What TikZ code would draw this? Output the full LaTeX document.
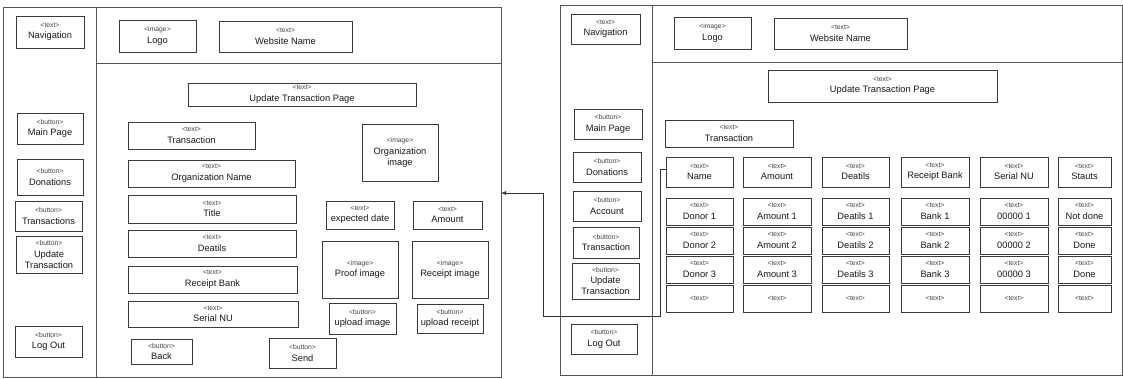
\documentclass[tikz,border=0pt]{standalone}
\usepackage{fontspec}
\setmainfont{Liberation Sans}
\usetikzlibrary{arrows.meta}
\definecolor{boxline}{HTML}{3A3A3A}
\definecolor{frameline}{HTML}{555555}
\definecolor{tagcol}{HTML}{444444}
\newcommand\tagf{\fontsize{6.8}{8}\selectfont\color{tagcol}}
% wireframe element: name, x1, y1, x2, y2, kind, label
\newcommand\wbox[7]{\node[wbox,minimum width={#4-#2},minimum height={#5-#3}] (#1) at ({(#2+#4)/2},{(#3+#5)/2}) {{\tagf<#6>}\\[0.5pt]#7};}
% wireframe element holding only its kind tag
\newcommand\ebox[6]{\node[wbox,minimum width={#4-#2},minimum height={#5-#3}] (#1) at ({(#2+#4)/2},{(#3+#5)/2}) {{\tagf<#6>}};}
\begin{document}
\begin{tikzpicture}[x=1pt,y=-1pt,
  wbox/.style={draw=boxline,line width=0.9pt,fill=white,align=center,inner sep=1pt,
    text=black!90,font=\fontsize{9.3}{11}\selectfont},
  frame/.style={draw=frameline,line width=0.8pt},
  conn/.style={draw=black!80,line width=0.7pt,-{Latex[length=5pt,width=4pt]}}]
\useasboundingbox (0,0) rectangle (1123,378);
\fill[white] (0,0) rectangle (1123,378);

% ---------- edit form page ----------
\draw[frame] (3,7) rectangle (501,377);
\draw[frame] (96,7) -- (96,377);
\draw[frame] (96,63) -- (501,63);
\coordinate (formedge) at (501,193);

\wbox{lnav}{16}{16}{84}{48}{text}{Navigation}
\wbox{lmain}{17}{113}{83}{144}{button}{Main Page}
\wbox{ldon}{17}{159}{83}{195}{button}{Donations}
\wbox{ltrans}{15}{201}{82}{231}{button}{Transactions}
\wbox{lupd}{16}{236}{82}{273}{button}{Update\\Transaction}
\wbox{llog}{15}{326}{82}{357}{button}{Log Out}

\wbox{llogo}{119}{20}{196}{52}{image}{Logo}
\wbox{lweb}{219}{21}{352}{52}{text}{Website Name}
\wbox{lpage}{188}{83}{416}{106}{text}{Update Transaction Page}

\wbox{ltx}{128}{122}{255}{149}{text}{Transaction}
\wbox{lorg}{128}{160}{295}{187}{text}{Organization Name}
\wbox{ltitle}{128}{195}{296}{223}{text}{Title}
\wbox{ldet}{128}{230}{296}{257}{text}{Deatils}
\wbox{lbank}{128}{266}{297}{293}{text}{Receipt Bank}
\wbox{lserial}{128}{301}{298}{327}{text}{Serial NU}

\wbox{lorgimg}{362}{124}{438}{181}{image}{Organization\\image}
\wbox{ldate}{326}{201}{394}{229}{text}{expected date}
\wbox{lamt}{413}{201}{482}{229}{text}{Amount}
\wbox{lproof}{322}{241}{398}{298}{image}{Proof image}
\wbox{lrimg}{412}{241}{488}{298}{image}{Receipt image}
\wbox{lupimg}{329}{303}{396}{334}{button}{upload image}
\wbox{luprec}{417}{304}{483}{333}{button}{upload receipt}
\wbox{lback}{131}{339}{192}{364}{button}{Back}
\wbox{lsend}{269}{338}{336}{368}{button}{Send}

% ---------- transaction list page ----------
\draw[frame] (560,5) rectangle (1122,375);
\draw[frame] (652,5) -- (652,375);
\draw[frame] (652,62) -- (1122,62);

\wbox{rnav}{571}{14}{640}{44}{text}{Navigation}
\wbox{rmain}{574}{109}{642}{139}{button}{Main Page}
\wbox{rdon}{573}{152}{641}{182}{button}{Donations}
\wbox{racc}{573}{191}{641}{221}{button}{Account}
\wbox{rtrans}{573}{227}{639}{258}{button}{Transaction}
\wbox{rupd}{572}{263}{639}{299}{button}{Update\\Transaction}
\wbox{rlog}{571}{324}{637}{354}{button}{Log Out}

\wbox{rlogo}{674}{17}{751}{49}{image}{Logo}
\wbox{rweb}{774}{18}{907}{49}{text}{Website Name}
\wbox{rpage}{768}{70}{997}{102}{text}{Update Transaction Page}
\wbox{rtx}{665}{120}{793}{147}{text}{Transaction}

% table header
\wbox{hname}{666}{157}{733}{187}{text}{Name}
\wbox{hamt}{743}{157}{811}{187}{text}{Amount}
\wbox{hdet}{822}{157}{889}{187}{text}{Deatils}
\wbox{hbank}{901}{157}{969}{187}{text}{Receipt Bank}
\wbox{hser}{980}{157}{1048}{187}{text}{Serial NU}
\wbox{hstat}{1058}{157}{1111}{187}{text}{Stauts}

% table rows
\wbox{name1}{666}{198}{733}{225}{text}{Donor 1}
\wbox{name2}{666}{227}{733}{254}{text}{Donor 2}
\wbox{name3}{666}{256}{733}{283}{text}{Donor 3}
\ebox{name4}{666}{285}{733}{312}{text}
\wbox{amt1}{743}{198}{811}{225}{text}{Amount 1}
\wbox{amt2}{743}{227}{811}{254}{text}{Amount 2}
\wbox{amt3}{743}{256}{811}{283}{text}{Amount 3}
\ebox{amt4}{743}{285}{811}{312}{text}
\wbox{det1}{822}{198}{889}{225}{text}{Deatils 1}
\wbox{det2}{822}{227}{889}{254}{text}{Deatils 2}
\wbox{det3}{822}{256}{889}{283}{text}{Deatils 3}
\ebox{det4}{822}{285}{889}{312}{text}
\wbox{bank1}{901}{198}{969}{225}{text}{Bank 1}
\wbox{bank2}{901}{227}{969}{254}{text}{Bank 2}
\wbox{bank3}{901}{256}{969}{283}{text}{Bank 3}
\ebox{bank4}{901}{285}{969}{312}{text}
\wbox{ser1}{980}{198}{1048}{225}{text}{00000 1}
\wbox{ser2}{980}{227}{1048}{254}{text}{00000 2}
\wbox{ser3}{980}{256}{1048}{283}{text}{00000 3}
\ebox{ser4}{980}{285}{1048}{312}{text}
\wbox{stat1}{1058}{198}{1111}{225}{text}{Not done}
\wbox{stat2}{1058}{227}{1111}{254}{text}{Done}
\wbox{stat3}{1058}{256}{1111}{283}{text}{Done}
\ebox{stat4}{1058}{285}{1111}{312}{text}

% link from the list back to the edit form
\coordinate (bendA) at (660,316);
\coordinate (bendB) at (543,193);
\draw[conn] ([yshift=3pt]hname.west) -| (bendA) -| (bendB) -- (formedge);
\end{tikzpicture}
\end{document}
